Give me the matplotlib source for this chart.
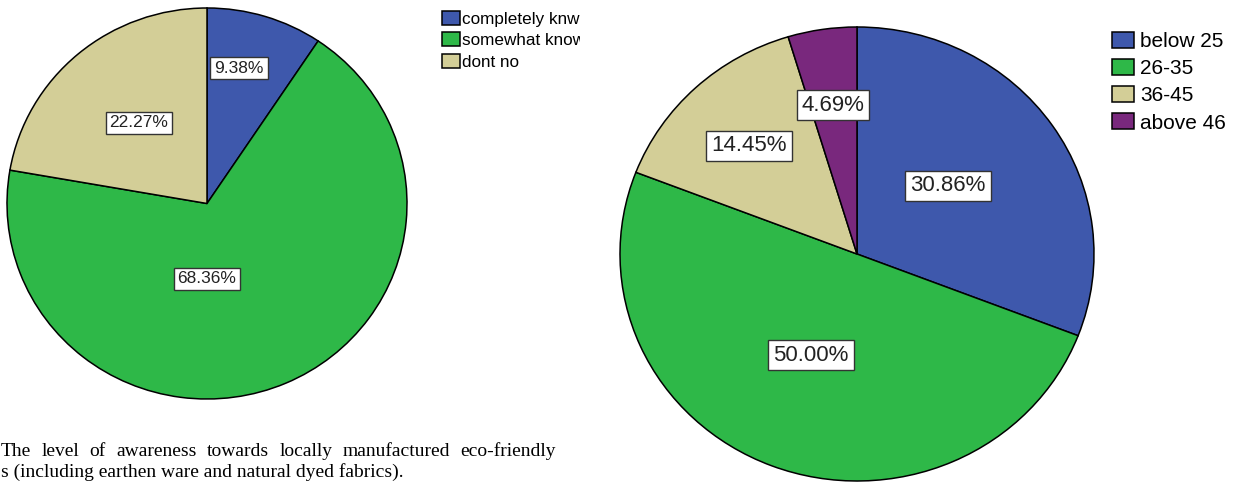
import matplotlib
matplotlib.use("Agg")
from matplotlib import pyplot as plt
from matplotlib.transforms import Bbox

plt.rcParams.update({"font.family": ["Liberation Sans", "DejaVu Sans"]})

W, H, DPI = 1248, 483, 100

# awareness of locally made eco-friendly products
aware_labels = ["completely knw", "somewhat know", "dont no"]
aware_pct = [9.38, 68.36, 22.27]
aware_colors = ["#3e58ac", "#2eb848", "#d3ce97"]

# respondents by age group
age_labels = ["below 25", "26-35", "36-45", "above 46"]
age_pct = [30.86, 50.00, 14.45, 4.69]
age_colors = ["#3e58ac", "#2eb848", "#d3ce97", "#79287d"]

caption_1 = "The level of awareness towards locally manufactured eco-friendly"
caption_2 = "s (including earthen ware and natural dyed fabrics)."

# where the value boxes sit, in units of the pie radius
aware_lbl_pos = [(0.16, 0.693), (0.0, -0.386), (-0.34, 0.412)]
age_lbl_pos = [(0.384, 0.300), (-0.194, -0.445), (-0.456, 0.476), (-0.101, 0.656)]

fig = plt.figure(figsize=(W / DPI, H / DPI), dpi=DPI)


def pie_axes(cx, cy, rx, ry):
    # pixel geometry measured from the top-left corner
    return fig.add_axes([(cx - rx) / W, (H - cy - ry) / H, 2 * rx / W, 2 * ry / H])


def draw_pie(ax, values, colors, lbl_pos, fs):
    wedges, _ = ax.pie(values, colors=colors, startangle=90, counterclock=False,
                       wedgeprops=dict(edgecolor="black", linewidth=1.1, clip_on=False))
    ax.set_aspect("auto")
    ax.set_xlim(-1, 1)
    ax.set_ylim(-1, 1)
    for v, (lx, ly) in zip(values, lbl_pos):
        ax.text(lx, ly, f"{v:.2f}%", ha="center", va="center", fontsize=fs,
                color="#222222", zorder=5,
                bbox=dict(boxstyle="square,pad=0.22", fc="white", ec="#333333", lw=1.0))
    return wedges


ax1 = pie_axes(207, 203.5, 200, 195.5)
w1 = draw_pie(ax1, aware_pct, aware_colors, aware_lbl_pos, 12.5)

ax2 = pie_axes(857, 254, 237, 227)
w2 = draw_pie(ax2, age_pct, age_colors, age_lbl_pos, 16)

leg1 = fig.legend(w1, aware_labels, loc="upper left", bbox_to_anchor=(442 / W, 1 - 11 / H),
                  frameon=False, fontsize=12.3, handlelength=1.05, handleheight=0.88,
                  handletextpad=0.15, labelspacing=0.32, borderpad=0, borderaxespad=0)
clip = Bbox([[0, 0], [580, H]])
for t in leg1.get_texts():
    t.set_clip_box(clip)
    t.set_clip_on(True)

leg2 = fig.legend(w2, age_labels, loc="upper left", bbox_to_anchor=(1112 / W, 1 - 32 / H),
                  frameon=False, fontsize=15, handlelength=1.05, handleheight=0.8,
                  handletextpad=0.3, labelspacing=0.38, borderpad=0, borderaxespad=0)


def justified(text, y_px, x0, x1, fs):
    words = text.split()
    r = fig.canvas.get_renderer()
    arts = [fig.text(0, 1 - y_px / H, w, fontsize=fs, family="Liberation Serif",
                     va="baseline", ha="left") for w in words]
    widths = [a.get_window_extent(r).width for a in arts]
    gap = (x1 - x0 - sum(widths)) / (len(words) - 1)
    x = x0
    for a, wd in zip(arts, widths):
        a.set_x(x / W)
        x += wd + gap


justified(caption_1, 456, 1, 556, 14)
fig.text(1 / W, 1 - 477 / H, caption_2, fontsize=14, family="Liberation Serif",
         va="baseline", ha="left")

fig.savefig("out.png", dpi=DPI)
